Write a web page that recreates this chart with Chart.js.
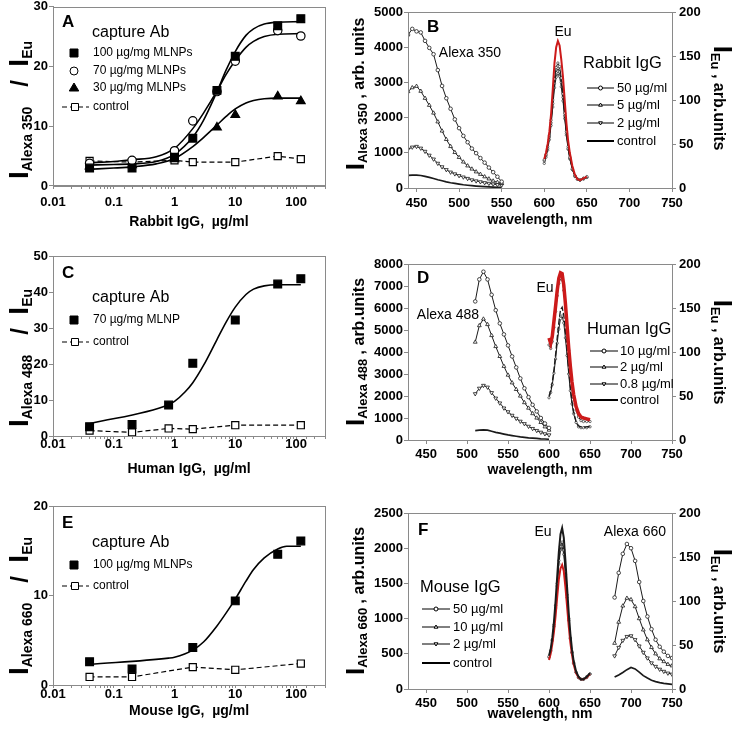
<!DOCTYPE html>
<html>
<head>
<meta charset="utf-8">
<script src="https://cdn.jsdelivr.net/npm/chart.js@4.4.1/dist/chart.umd.min.js"></script>
<style>
  body { margin: 0; background: #fff; }
  #wrap { position: relative; width: 735px; height: 731px; }
  canvas { position: absolute; left: 0; top: 0; }
</style>
</head>
<body>
<div id="wrap">
  <canvas id="chA" width="735" height="731"></canvas>
  <canvas id="chB" width="735" height="731"></canvas>
  <canvas id="chC" width="735" height="731"></canvas>
  <canvas id="chD" width="735" height="731"></canvas>
  <canvas id="chE" width="735" height="731"></canvas>
  <canvas id="chF" width="735" height="731"></canvas>
</div>
<script>
// ---------- Panel A: rabbit IgG dose response ----------
var rabbitDose = [0.04, 0.2, 1, 2, 5, 10, 50, 120];
var rabbit100 = [3.0, 3.0, 4.8, 8.0, 16.0, 21.7, 26.8, 28.0];
var rabbit70 = [3.8, 4.3, 5.9, 10.9, 15.8, 20.9, 26.0, 25.1];
var rabbit30Dose = [0.04, 0.2, 1, 5, 10, 50, 120];
var rabbit30 = [3.3, 3.5, 4.5, 9.8, 11.9, 15.0, 14.2];
var rabbitCtrlDose = [0.04, 0.2, 1, 2, 10, 50, 120];
var rabbitCtrl = [4.2, 4.0, 4.3, 4.0, 4.0, 5.0, 4.5];
var rabbitFitDose = [0.04, 0.1, 0.2, 0.5, 1, 2, 3, 5, 7, 10, 15, 20, 30, 50, 120];
var rabbitFit100 = [3.5, 3.6, 3.7, 4.1, 5.3, 8.2, 11.0, 15.8, 19.3, 22.5, 25.2, 26.3, 27.1, 27.4, 27.5];
var rabbitFit70 = [3.9, 4.1, 4.4, 4.9, 6.3, 9.6, 12.2, 15.9, 18.6, 21.0, 23.2, 24.2, 25.0, 25.4, 25.5];
var rabbitFit30 = [2.8, 3.0, 3.2, 3.7, 4.6, 6.6, 8.1, 10.2, 11.6, 12.9, 13.9, 14.3, 14.6, 14.7, 14.7];
var aTicks = [0, 10, 20, 30];

// ---------- Panel C: human IgG dose response ----------
var humanDose = [0.04, 0.2, 0.8, 2, 10, 50, 120];
var human70 = [2.6, 3.2, 8.6, 20.2, 32.2, 42.2, 43.7];
var humanCtrlDose = [0.04, 0.2, 0.8, 2, 10, 120];
var humanCtrl = [1.5, 1.0, 2.1, 1.9, 3.0, 3.0];
var humanFitDose = [0.04, 0.8, 1, 1.5, 2, 3, 5, 7, 10, 15, 20, 30, 50, 120];
var humanFit = [3.4, 8.7, 9.6, 12.3, 14.8, 19.6, 26.8, 31.5, 35.8, 39.3, 40.8, 41.7, 42.0, 42.0];
var cTicks = [0, 10, 20, 30, 40, 50];

// ---------- Panel E: mouse IgG dose response ----------
var mouseDose = [0.04, 0.2, 2, 10, 50, 120];
var mouse100 = [2.6, 1.8, 4.2, 9.4, 14.6, 16.1];
var mouseCtrlDose = [0.04, 0.2, 2, 10, 120];
var mouseCtrl = [0.9, 0.9, 2.0, 1.7, 2.4];
var mouseFitDose = [0.04, 0.8, 1, 2, 3, 5, 7, 10, 15, 20, 30, 50, 70, 120];
var mouseFit = [2.3, 3.0, 3.1, 3.9, 4.8, 6.6, 8.0, 9.6, 11.6, 12.9, 14.2, 15.2, 15.5, 15.5];
var eTicks = [0, 10, 20];

// ---------- Panel B: Alexa 350 + Eu spectra ----------
var rabbitWl = [440, 445, 450, 455, 460, 465, 470, 475, 480, 485, 490, 495, 500, 505, 510, 515, 520, 525, 530, 535, 540, 545, 550];
var rab50 = [4350, 4520, 4450, 4420, 4180, 3980, 3800, 3350, 2900, 2550, 2250, 1950, 1700, 1480, 1300, 1120, 990, 850, 720, 580, 450, 320, 180];
var rab5 = [2740, 2850, 2890, 2750, 2550, 2350, 2130, 1880, 1620, 1380, 1180, 1010, 870, 740, 630, 540, 460, 390, 320, 260, 200, 160, 130];
var rab2 = [1100, 1160, 1180, 1130, 1040, 930, 820, 700, 600, 520, 450, 400, 350, 310, 270, 230, 200, 175, 150, 130, 110, 95, 85];
var rabCtrl = [360, 365, 365, 355, 330, 300, 270, 235, 205, 175, 150, 130, 110, 92, 78, 65, 54, 45, 37, 30, 25, 20, 17];
var euWl = [600, 602, 604, 606, 608, 610, 612, 614, 616, 618, 620, 622, 624, 626, 628, 630, 633, 636, 639, 642, 646, 650];
var rabEuRed = [33, 40, 50, 64, 84, 112, 142, 160, 167, 162, 146, 126, 100, 74, 54, 40, 25, 15, 10, 9, 11, 13];
var rabEu50 = [32, 38, 47, 60, 77, 100, 124, 137, 142, 138, 125, 107, 85, 64, 47, 35, 22, 14, 10, 9, 11, 13];
var rabEu5 = [31, 37, 45, 58, 74, 96, 119, 131, 136, 132, 120, 103, 82, 62, 45, 34, 21, 14, 10, 9, 11, 12];
var rabEu2 = [28, 35, 43, 55, 71, 92, 114, 126, 130, 127, 115, 99, 79, 60, 44, 33, 21, 13, 10, 9, 10, 12];
var bTicks = [0, 1000, 2000, 3000, 4000, 5000];

// ---------- Panel D: Alexa 488 + Eu spectra ----------
var humanWl = [510, 515, 520, 525, 530, 535, 540, 545, 550, 555, 560, 565, 570, 575, 580, 585, 590, 595, 600];
var hum10 = [6300, 7300, 7650, 7300, 6600, 5900, 5300, 4800, 4300, 3800, 3300, 2800, 2350, 1950, 1600, 1300, 1000, 750, 550];
var hum2 = [4450, 5200, 5500, 5250, 4750, 4250, 3800, 3350, 2950, 2600, 2300, 2000, 1700, 1450, 1200, 1000, 800, 600, 450];
var hum08 = [2100, 2350, 2480, 2400, 2150, 1900, 1680, 1450, 1280, 1120, 980, 850, 740, 620, 520, 430, 350, 280, 230];
var humCtrl = [430, 450, 460, 450, 400, 350, 310, 270, 230, 200, 170, 140, 120, 100, 85, 70, 55, 45, 35];
var humEuRed = [116, 110, 118, 135, 152, 170, 184, 190, 189, 176, 155, 130, 105, 84, 66, 52, 38, 30, 26, 25, 24, 23];
var humEu10 = [108, 104, 112, 128, 146, 164, 178, 184, 182, 170, 150, 126, 102, 80, 62, 48, 34, 26, 22, 21, 21, 21];
var humEu2 = [50, 56, 66, 80, 97, 116, 134, 148, 151, 142, 124, 102, 80, 60, 44, 32, 21, 16, 15, 15, 15, 16];
var humEu08 = [48, 54, 63, 76, 92, 110, 126, 138, 141, 133, 116, 96, 75, 56, 41, 30, 20, 15, 14, 14, 14, 15];
var dTicks = [0, 1000, 2000, 3000, 4000, 5000, 6000, 7000, 8000];

// ---------- Panel F: Alexa 660 + Eu spectra ----------
var mouseWl = [680, 685, 690, 695, 700, 705, 710, 715, 720, 725, 730, 735, 740, 745, 750];
var mou50 = [1300, 1650, 1920, 2060, 2000, 1820, 1520, 1250, 1030, 850, 700, 600, 530, 470, 440];
var mou10 = [650, 950, 1180, 1290, 1270, 1170, 1000, 840, 700, 590, 500, 430, 390, 350, 330];
var mou2 = [470, 590, 690, 745, 755, 700, 610, 520, 440, 370, 320, 280, 250, 225, 210];
var mouCtrl = [170, 200, 235, 275, 305, 285, 240, 190, 155, 125, 105, 90, 80, 72, 65];
var mouEuCtrl = [38, 45, 58, 76, 100, 128, 156, 176, 183, 172, 146, 116, 87, 63, 45, 32, 20, 14, 11, 11, 14, 18];
var mouEu50 = [37, 44, 56, 73, 95, 120, 146, 162, 167, 158, 134, 107, 80, 58, 42, 30, 19, 13, 11, 11, 14, 17];
var mouEu10 = [36, 43, 55, 71, 92, 117, 142, 158, 162, 153, 130, 104, 78, 57, 41, 29, 19, 13, 11, 11, 13, 17];
var mouEuRed = [33, 40, 51, 65, 83, 105, 125, 137, 141, 134, 116, 94, 72, 53, 39, 28, 18, 13, 11, 11, 13, 17];
var fTicks = [0, 500, 1000, 1500, 2000, 2500];

var euTicks = [0, 50, 100, 150, 200];
var wlTicks = [450, 500, 550, 600, 650, 700, 750];

var FONT = "'Liberation Sans', Arial, Helvetica, sans-serif";
var GREY = '#8a8a8a';
var RED = '#cc1a1a';
Chart.defaults.font.family = FONT;
Chart.defaults.color = '#000';

function pts(xs, ys) { // zip x and y arrays into chart points
  return xs.map(function (x, i) { return { x: x, y: ys[i] }; });
}

function setTicks(list) { // fixed tick positions
  return function (scale) { scale.ticks = list.map(function (v) { return { value: v }; }); };
}

function fixW(w) { // fixed width for a vertical axis
  return function (s) { s.width = w; s.paddingTop = 0; s.paddingBottom = 0; s.paddingLeft = 0; s.paddingRight = 0; };
}
function fixH(h) {
  return function (s) { s.height = h; s.paddingTop = 0; s.paddingBottom = 0; s.paddingLeft = 0; s.paddingRight = 0; };
}

function txt(ctx, s, x, y, size, weight, align) {
  ctx.font = (weight || 'normal') + ' ' + size + 'px ' + FONT;
  ctx.textAlign = align || 'left';
  ctx.textBaseline = 'middle';
  ctx.fillStyle = '#000';
  ctx.fillText(s, x, y);
}

// text made of parts [text, size, dy] (all bold), centred on (x, y) and rotated
function rich(ctx, x, y, rot, parts) {
  ctx.save();
  ctx.translate(x, y);
  ctx.rotate(rot);
  ctx.textBaseline = 'alphabetic';
  ctx.textAlign = 'left';
  ctx.fillStyle = '#000';
  var widths = parts.map(function (p) { ctx.font = 'bold ' + p[1] + 'px ' + FONT; return ctx.measureText(p[0]).width; });
  var total = widths.reduce(function (a, b) { return a + b; }, 0);
  var cx = -total / 2;
  parts.forEach(function (p, i) {
    ctx.font = 'bold ' + p[1] + 'px ' + FONT;
    ctx.fillText(p[0], cx, p[2]);
    cx += widths[i];
  });
  ctx.restore();
}

function mark(ctx, kind, x, y, r, fill) { // legend markers
  ctx.beginPath();
  if (kind === 'sq') {
    ctx.rect(x - r, y - r, 2 * r, 2 * r);
  } else if (kind === 'circ') {
    ctx.arc(x, y, r, 0, Math.PI * 2);
  } else if (kind === 'tri') {
    ctx.moveTo(x, y - r); ctx.lineTo(x + r * 0.95, y + r * 0.6); ctx.lineTo(x - r * 0.95, y + r * 0.6); ctx.closePath();
  } else if (kind === 'triD') {
    ctx.moveTo(x, y + r); ctx.lineTo(x + r * 0.95, y - r * 0.6); ctx.lineTo(x - r * 0.95, y - r * 0.6); ctx.closePath();
  }
  ctx.fillStyle = fill;
  ctx.fill();
  ctx.strokeStyle = '#000';
  ctx.lineWidth = 1;
  ctx.stroke();
}

function seg(ctx, x1, x2, y, width, dash) {
  ctx.beginPath();
  ctx.setLineDash(dash || []);
  ctx.moveTo(x1, y); ctx.lineTo(x2, y);
  ctx.strokeStyle = '#000';
  ctx.lineWidth = width;
  ctx.stroke();
  ctx.setLineDash([]);
}

function frame(ctx, chart) { // grey box round the plot area
  var a = chart.chartArea;
  ctx.strokeStyle = GREY;
  ctx.lineWidth = 1;
  ctx.strokeRect(Math.round(a.left) + 0.5, Math.round(a.top) + 0.5, Math.round(a.right - a.left), Math.round(a.bottom - a.top));
}

function annot(fn) {
  return { id: 'annot', afterDraw: function (chart) { var ctx = chart.ctx; ctx.save(); fn(ctx, chart); ctx.restore(); } };
}

function decadeLabel(v) { // only 0.01, 0.1, 1, 10, 100 get labels
  var l = Math.log10(v);
  return Math.abs(l - Math.round(l)) < 1e-6 ? String(Math.pow(10, Math.round(l))) : '';
}

var tickFont = { size: 13, weight: 'bold' };

// dose response chart on a log x axis
function doseChart(id, area, yTicks, datasets, extra) {
  return new Chart(document.getElementById(id), {
    type: 'line',
    data: { datasets: datasets },
    options: {
      responsive: false, animation: false, devicePixelRatio: 1,
      layout: { padding: { left: area.l - 45, right: 735 - area.r, top: area.t, bottom: 731 - area.b - 30 } },
      plugins: { legend: { display: false }, tooltip: { enabled: false } },
      scales: {
        x: {
          type: 'logarithmic', min: 0.01, max: 300, afterFit: fixH(30),
          grid: { drawOnChartArea: false, tickLength: 3, color: GREY },
          border: { color: GREY },
          ticks: { autoSkip: false, maxRotation: 0, padding: area.pad, font: tickFont, callback: decadeLabel }
        },
        y: {
          min: yTicks[0], max: yTicks[yTicks.length - 1], afterFit: fixW(45), afterBuildTicks: setTicks(yTicks),
          grid: { drawOnChartArea: false, tickLength: 4, color: GREY },
          border: { color: GREY },
          ticks: { padding: 1, font: tickFont, callback: function (v) { return String(v); } }
        }
      }
    },
    plugins: [annot(extra)]
  });
}

// spectrum chart with left (Alexa) and right (Eu) axes
function specChart(id, area, xMin, yTicks, datasets, extra) {
  return new Chart(document.getElementById(id), {
    type: 'line',
    data: { datasets: datasets },
    options: {
      responsive: false, animation: false, devicePixelRatio: 1,
      layout: { padding: { left: area.l - 50, right: 735 - area.r - 40, top: area.t, bottom: 731 - area.b - 30 } },
      plugins: { legend: { display: false }, tooltip: { enabled: false } },
      scales: {
        x: {
          type: 'linear', min: xMin, max: 750, afterFit: fixH(30), afterBuildTicks: setTicks(wlTicks),
          grid: { drawOnChartArea: false, tickLength: 4, color: GREY },
          border: { color: GREY },
          ticks: { maxRotation: 0, padding: area.pad, font: tickFont, callback: function (v) { return String(v); } }
        },
        y: {
          position: 'left', min: 0, max: yTicks[yTicks.length - 1], afterFit: fixW(50), afterBuildTicks: setTicks(yTicks),
          grid: { drawOnChartArea: false, tickLength: 4, color: GREY },
          border: { color: GREY },
          ticks: { padding: 1, font: tickFont, callback: function (v) { return String(v); } }
        },
        y2: {
          position: 'right', min: 0, max: 200, afterFit: fixW(40), afterBuildTicks: setTicks(euTicks),
          grid: { drawOnChartArea: false, tickLength: 4, color: GREY },
          border: { color: GREY },
          ticks: { padding: 3, font: tickFont, callback: function (v) { return String(v); } }
        }
      }
    },
    plugins: [annot(extra)]
  });
}

// dataset styles
function fitLine(xs, ys) {
  return { data: pts(xs, ys), borderColor: '#000', borderWidth: 1.6, pointRadius: 0, cubicInterpolationMode: 'monotone', fill: false };
}
function dots(xs, ys, style, r, fill) {
  return { data: pts(xs, ys), showLine: false, pointStyle: style, pointRadius: r, pointBackgroundColor: fill, pointBorderColor: '#000', pointBorderWidth: 1.2 };
}
function ctrlLine(xs, ys) {
  return { data: pts(xs, ys), borderColor: '#000', borderWidth: 1.2, borderDash: [5, 3], pointStyle: 'rect', pointRadius: 5,
    pointBackgroundColor: '#fff', pointBorderColor: '#000', pointBorderWidth: 1.2, fill: false };
}
function spec(xs, ys, axis, style) {
  var d = { data: pts(xs, ys), yAxisID: axis, borderColor: '#1a1a1a', borderWidth: 1, pointRadius: 0, fill: false };
  for (var k in style) { d[k] = style[k]; }
  return d;
}
var sCirc = { pointStyle: 'circle', pointRadius: 1.8, pointBackgroundColor: '#fff', pointBorderColor: '#1a1a1a', pointBorderWidth: 0.8 };
var sTri = { pointStyle: 'triangle', pointRadius: 2.2, pointBackgroundColor: '#fff', pointBorderColor: '#1a1a1a', pointBorderWidth: 0.8 };
var sTriD = { pointStyle: 'triangle', pointRotation: 180, pointRadius: 2.2, pointBackgroundColor: '#fff', pointBorderColor: '#1a1a1a', pointBorderWidth: 0.8 };
var sEu = { pointStyle: 'circle', pointRadius: 1.2, pointBackgroundColor: '#fff', pointBorderColor: '#1a1a1a', pointBorderWidth: 0.6 };
var sCtrl = { borderWidth: 1.7 };

// left titles "I_Alexa xxx / I_Eu"
function ratioTitle(ctx, y, dye) {
  rich(ctx, 28, y, -Math.PI / 2, [['I', 28, 0], ['Alexa ' + dye, 14, 4], ['   /  ', 24, 0], ['I', 28, 0], ['Eu', 14, 4]]);
}
function alexaTitle(ctx, y, dye, tail) {
  rich(ctx, 364, y, -Math.PI / 2, [['I', 26, 0], ['Alexa ' + dye, 13, 3], [tail, 16, 0]]);
}
function euTitle(ctx, y) {
  rich(ctx, 714, y, Math.PI / 2, [['I', 26, 0], ['Eu', 13, 3], [' , arb.units', 16, 0]]);
}
function specLegend(ctx, head, hx, hy, x1, x2, tx, ys, labels) {
  txt(ctx, head, hx, hy, 16.5);
  var kinds = ['circ', 'tri', 'triD'];
  for (var i = 0; i < 3; i++) {
    seg(ctx, x1, x2, ys[i], 1);
    mark(ctx, kinds[i], (x1 + x2) / 2, ys[i], 2, '#fff');
    txt(ctx, labels[i], tx, ys[i], 13);
  }
  seg(ctx, x1, x2, ys[3], 2);
  txt(ctx, 'control', tx, ys[3], 13);
}

// ---------- A ----------
doseChart('chA', { l: 53, r: 325, t: 6, b: 186, pad: 6 }, aTicks, [
  dots(rabbitDose, rabbit100, 'rect', 5.5, '#000'),
  dots(rabbitDose, rabbit70, 'circle', 4.2, '#fff'),
  dots(rabbit30Dose, rabbit30, 'triangle', 5, '#000'),
  ctrlLine(rabbitCtrlDose, rabbitCtrl),
  fitLine(rabbitFitDose, rabbitFit100),
  fitLine(rabbitFitDose, rabbitFit70),
  fitLine(rabbitFitDose, rabbitFit30)
], function (ctx, chart) {
  frame(ctx, chart);
  txt(ctx, 'A', 62, 22, 17, 'bold');
  txt(ctx, 'capture Ab', 92, 33, 16);
  mark(ctx, 'sq', 74, 53, 4, '#000'); txt(ctx, '100 \u00b5g/mg MLNPs', 93, 53, 12);
  mark(ctx, 'circ', 74, 71, 4, '#fff'); txt(ctx, '70 \u00b5g/mg MLNPs', 93, 71, 12);
  mark(ctx, 'tri', 74, 88, 5, '#000'); txt(ctx, '30 \u00b5g/mg MLNPs', 93, 88, 12);
  seg(ctx, 62, 89, 107, 1.2, [5, 3]); mark(ctx, 'sq', 75, 107, 3.5, '#fff'); txt(ctx, 'control', 93, 107, 12);
  txt(ctx, 'Rabbit IgG,  \u00b5g/ml', 189, 222, 14, 'bold', 'center');
  ratioTitle(ctx, 110, '350');
});

// ---------- C ----------
doseChart('chC', { l: 53, r: 325, t: 256, b: 436, pad: -2.5 }, cTicks, [
  dots(humanDose, human70, 'rect', 5.5, '#000'),
  ctrlLine(humanCtrlDose, humanCtrl),
  fitLine(humanFitDose, humanFit)
], function (ctx, chart) {
  frame(ctx, chart);
  txt(ctx, 'C', 62, 273, 17, 'bold');
  txt(ctx, 'capture Ab', 92, 298, 16);
  mark(ctx, 'sq', 74, 320, 4, '#000'); txt(ctx, '70 \u00b5g/mg MLNP', 93, 320, 12);
  seg(ctx, 62, 89, 342, 1.2, [5, 3]); mark(ctx, 'sq', 75, 342, 3.5, '#fff'); txt(ctx, 'control', 93, 342, 12);
  txt(ctx, 'Human IgG,  \u00b5g/ml', 189, 469, 14, 'bold', 'center');
  ratioTitle(ctx, 358, '488');
});

// ---------- E ----------
doseChart('chE', { l: 53, r: 325, t: 506, b: 685, pad: -1.5 }, eTicks, [
  dots(mouseDose, mouse100, 'rect', 5.5, '#000'),
  ctrlLine(mouseCtrlDose, mouseCtrl),
  fitLine(mouseFitDose, mouseFit)
], function (ctx, chart) {
  frame(ctx, chart);
  txt(ctx, 'E', 62, 523, 17, 'bold');
  txt(ctx, 'capture Ab', 92, 543, 16);
  mark(ctx, 'sq', 74, 565, 4, '#000'); txt(ctx, '100 \u00b5g/mg MLNPs', 93, 565, 12);
  seg(ctx, 62, 89, 586, 1.2, [5, 3]); mark(ctx, 'sq', 75, 586, 3.5, '#fff'); txt(ctx, 'control', 93, 586, 12);
  txt(ctx, 'Mouse IgG,  \u00b5g/ml', 189, 711, 14, 'bold', 'center');
  ratioTitle(ctx, 606, '660');
});

// ---------- B ----------
specChart('chB', { l: 408, r: 672, t: 12, b: 188, pad: 4 }, 440, bTicks, [
  spec(euWl, rabEuRed, 'y2', { borderColor: RED, borderWidth: 2 }),
  spec(euWl, rabEu50, 'y2', sEu),
  spec(euWl, rabEu5, 'y2', sEu),
  spec(euWl, rabEu2, 'y2', sEu),
  spec(rabbitWl, rab50, 'y', sCirc),
  spec(rabbitWl, rab5, 'y', sTri),
  spec(rabbitWl, rab2, 'y', sTriD),
  spec(rabbitWl, rabCtrl, 'y', sCtrl)
], function (ctx, chart) {
  frame(ctx, chart);
  txt(ctx, 'B', 427, 27, 17, 'bold');
  txt(ctx, 'Alexa 350', 470, 53, 14, 'normal', 'center');
  txt(ctx, 'Eu', 563, 32, 14, 'normal', 'center');
  specLegend(ctx, 'Rabbit IgG', 583, 63, 587, 614, 617, [88, 105, 123, 141], ['50 \u00b5g/ml', '5 \u00b5g/ml', '2 \u00b5g/ml']);
  txt(ctx, 'wavelength, nm', 540, 220, 14, 'bold', 'center');
  alexaTitle(ctx, 94, '350', ' , arb. units');
  euTitle(ctx, 98);
});

// ---------- D ----------
specChart('chD', { l: 408, r: 672, t: 264, b: 440, pad: 3 }, 428, dTicks, [
  spec(euWl, humEuRed, 'y2', { borderColor: RED, borderWidth: 3.5 }),
  spec(euWl, humEu10, 'y2', sEu),
  spec(euWl, humEu2, 'y2', { borderDash: [6, 2], borderWidth: 1.3 }),
  spec(euWl, humEu08, 'y2', sEu),
  spec(humanWl, hum10, 'y', sCirc),
  spec(humanWl, hum2, 'y', sTri),
  spec(humanWl, hum08, 'y', sTriD),
  spec(humanWl, humCtrl, 'y', sCtrl)
], function (ctx, chart) {
  frame(ctx, chart);
  txt(ctx, 'D', 417, 278, 17, 'bold');
  txt(ctx, 'Alexa 488', 448, 315, 14, 'normal', 'center');
  txt(ctx, 'Eu', 545, 288, 14, 'normal', 'center');
  specLegend(ctx, 'Human IgG', 587, 329, 590, 618, 620, [351, 367, 384, 400], ['10 \u00b5g/ml', '2 \u00b5g/ml', '0.8 \u00b5g/ml']);
  txt(ctx, 'wavelength, nm', 540, 470, 14, 'bold', 'center');
  alexaTitle(ctx, 352, '488', ' , arb.units');
  euTitle(ctx, 352);
});

// ---------- F ----------
specChart('chF', { l: 408, r: 672, t: 513, b: 689, pad: 2.5 }, 428, fTicks, [
  spec(euWl, mouEuCtrl, 'y2', { borderWidth: 2 }),
  spec(euWl, mouEuRed, 'y2', { borderColor: RED, borderWidth: 2 }),
  spec(euWl, mouEu50, 'y2', sEu),
  spec(euWl, mouEu10, 'y2', sEu),
  spec(mouseWl, mou50, 'y', sCirc),
  spec(mouseWl, mou10, 'y', sTri),
  spec(mouseWl, mou2, 'y', sTriD),
  spec(mouseWl, mouCtrl, 'y', sCtrl)
], function (ctx, chart) {
  frame(ctx, chart);
  txt(ctx, 'F', 418, 530, 17, 'bold');
  txt(ctx, 'Alexa 660', 635, 532, 14, 'normal', 'center');
  txt(ctx, 'Eu', 543, 532, 14, 'normal', 'center');
  specLegend(ctx, 'Mouse IgG', 420, 587, 422, 450, 453, [609, 627, 644, 663], ['50 \u00b5g/ml', '10 \u00b5g/ml', '2 \u00b5g/ml']);
  txt(ctx, 'wavelength, nm', 540, 714, 14, 'bold', 'center');
  alexaTitle(ctx, 601, '660', ' , arb.units');
  euTitle(ctx, 601);
});
</script>
</body>
</html>
